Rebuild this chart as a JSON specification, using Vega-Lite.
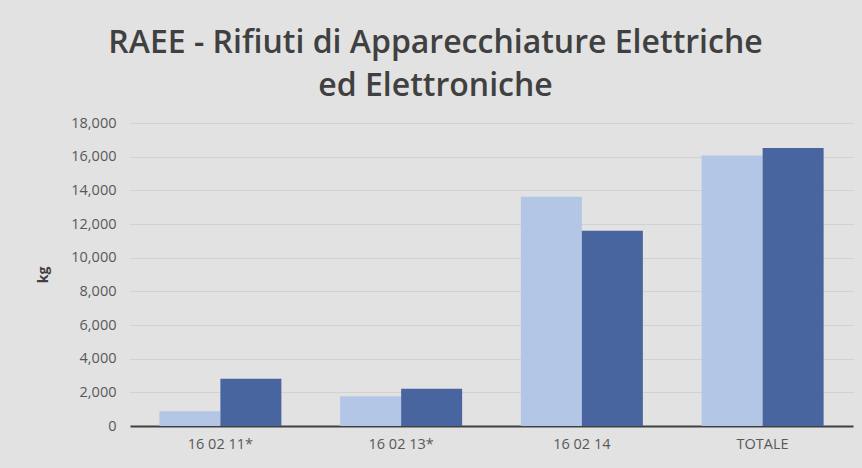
{
  "$schema": "https://vega.github.io/schema/vega-lite/v6.json",
  "width": 723,
  "height": 303,
  "autosize": {"type": "none"},
  "padding": {"left": 130, "top": 123, "right": 9, "bottom": 42},
  "background": "#e2e2e2",
  "title": {
    "text": ["RAEE - Rifiuti di Apparecchiature Elettriche", "ed Elettroniche"],
    "anchor": "middle",
    "frame": "group",
    "dx": -56,
    "offset": 12,
    "font": "Open Sans",
    "fontSize": 32,
    "fontWeight": 600,
    "color": "#404040",
    "lineHeight": 43
  },
  "data": {
    "values": [
      {"codice": "16 02 11*", "serie": "Serie 1", "kg": 880},
      {"codice": "16 02 11*", "serie": "Serie 2", "kg": 2810},
      {"codice": "16 02 13*", "serie": "Serie 1", "kg": 1770},
      {"codice": "16 02 13*", "serie": "Serie 2", "kg": 2220},
      {"codice": "16 02 14", "serie": "Serie 1", "kg": 13620},
      {"codice": "16 02 14", "serie": "Serie 2", "kg": 11600},
      {"codice": "TOTALE", "serie": "Serie 1", "kg": 16070},
      {"codice": "TOTALE", "serie": "Serie 2", "kg": 16520}
    ]
  },
  "mark": {"type": "bar"},
  "encoding": {
    "x": {
      "field": "codice",
      "type": "nominal",
      "sort": null,
      "scale": {"paddingInner": 0.325, "paddingOuter": 0.1625},
      "axis": {
        "title": null,
        "labelAngle": 0,
        "labelFont": "Open Sans",
        "labelFontSize": 14.5,
        "labelColor": "#595959",
        "labelPadding": 11,
        "ticks": false,
        "domainColor": "#404040",
        "domainWidth": 2,
        "zindex": 0
      }
    },
    "xOffset": {"field": "serie", "type": "nominal", "scale": {"paddingInner": 0, "paddingOuter": 0}},
    "y": {
      "field": "kg",
      "type": "quantitative",
      "scale": {"domain": [0, 18000], "nice": false},
      "axis": {
        "title": "kg",
        "titleFont": "Open Sans",
        "titleFontSize": 14,
        "titleFontWeight": "bold",
        "titleColor": "#404040",
        "titlePadding": 20,
        "values": [0, 2000, 4000, 6000, 8000, 10000, 12000, 14000, 16000, 18000],
        "format": ",d",
        "labelFont": "Open Sans",
        "labelFontSize": 14.5,
        "labelColor": "#595959",
        "labelPadding": 14,
        "ticks": false,
        "domain": false,
        "gridColor": "#d2d2d2",
        "gridWidth": 1.2,
        "zindex": 0
      }
    },
    "color": {
      "field": "serie",
      "type": "nominal",
      "scale": {"domain": ["Serie 1", "Serie 2"], "range": ["#b4c6e6", "#4865a0"]},
      "legend": null
    }
  },
  "config": {"view": {"stroke": null}}
}
